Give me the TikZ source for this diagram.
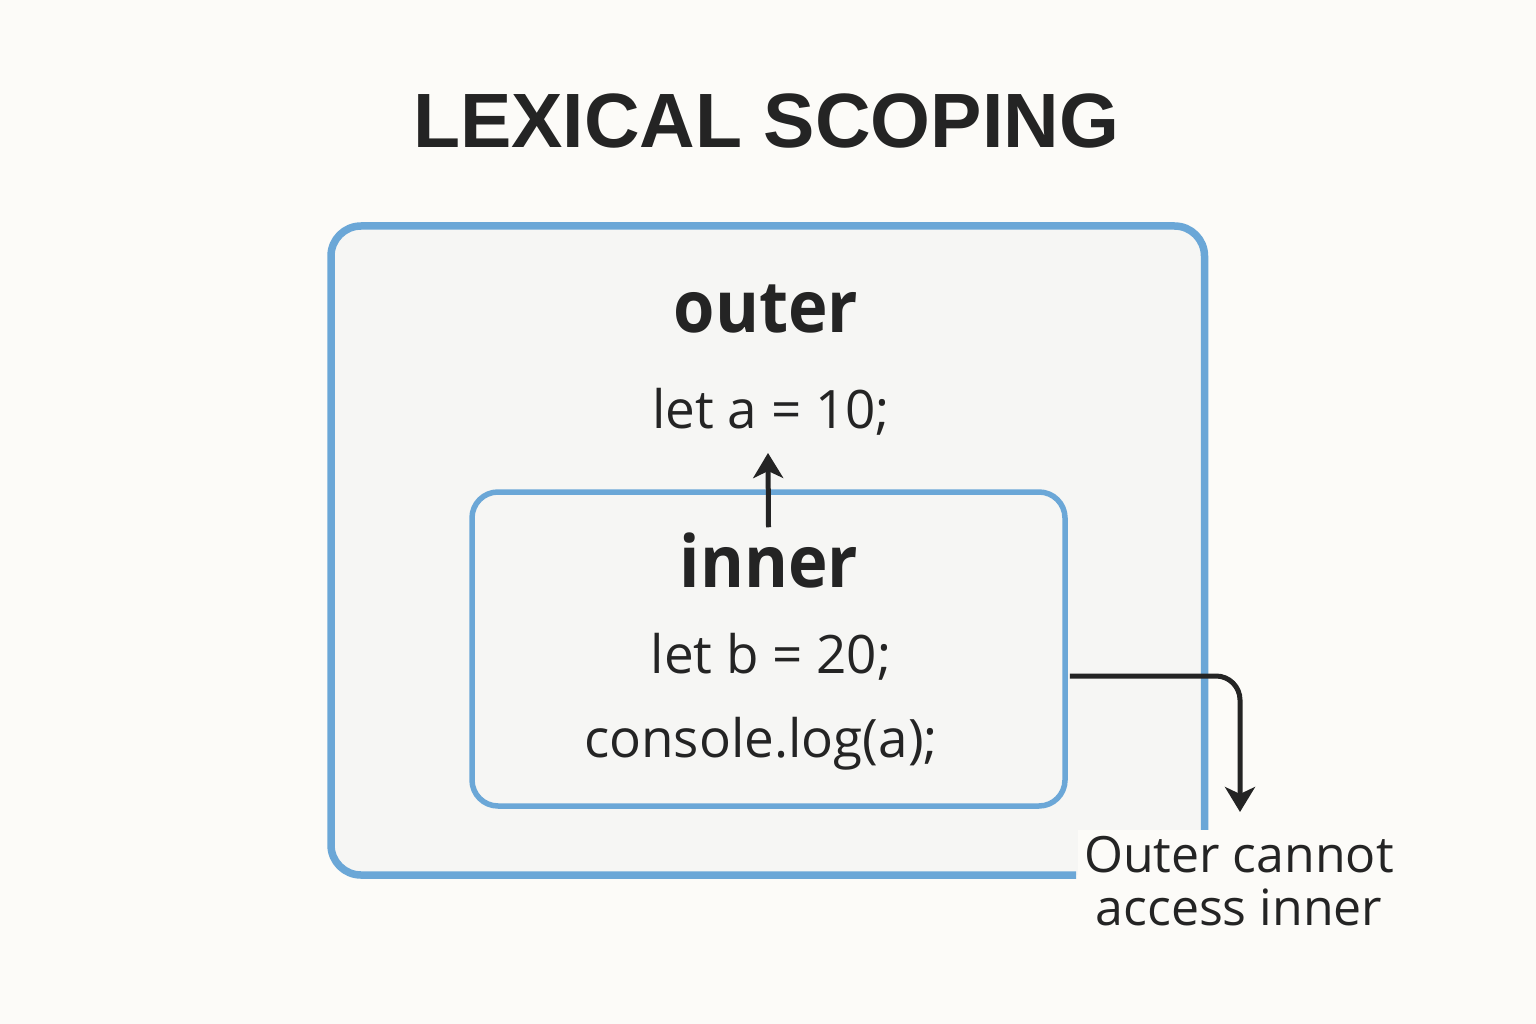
\documentclass[tikz,border=0pt]{standalone}
\usepackage{fontspec}
\setmainfont{Open Sans}
\newfontfamily\titlefont{Liberation Sans}
\newfontfamily\headfont{Open Sans}[FakeStretch=0.93]
\usetikzlibrary{arrows.meta,calc}
\definecolor{bgc}{HTML}{FCFBF8}
\definecolor{boxfill}{HTML}{F6F6F4}
\definecolor{scopeblue}{HTML}{6BA7D7}
\definecolor{ink}{HTML}{242424}
\tikzset{
  titletext/.style={font=\titlefont\bfseries\fontsize{77}{80}\selectfont, text=ink, anchor=base, inner sep=0pt},
  headtext/.style={font=\headfont\bfseries\fontsize{72}{76}\selectfont, text=ink, anchor=base, inner sep=0pt},
  codetext/.style={font=\fontsize{53}{56}\selectfont, text=ink, anchor=base, inner sep=0pt},
  notetext/.style={font=\fontsize{50}{52}\selectfont, text=ink, align=center, fill=bgc, inner sep=6pt},
  scopeline/.style={draw=scopeblue, line width=7.5pt, rounded corners=30pt},
  innerbox/.style={draw=scopeblue, line width=5.5pt, fill=boxfill, rounded corners=26pt, minimum width=593pt, minimum height=314pt, inner sep=0pt},
  conn/.style={draw=ink, line width=5pt, -{Stealth[length=25pt,width=30pt,inset=7pt]}}
}
\begin{document}
\begin{tikzpicture}[x=1pt,y=-1pt]
\fill[bgc] (0,0) rectangle (1536,1024);
\useasboundingbox (0,0) rectangle (1536,1024);
% outer scope box
\fill[boxfill, rounded corners=30pt] (331,226) rectangle (1204.5,875);
\draw[scopeline] (1204.5,833) -- (1204.5,226) -- (331,226) -- (331,875) -- (1076,875);
\node[titletext] (title) at (766,148) {LEXICAL SCOPING};
\node[headtext] (outer) at (766,332) {outer};
\node[codetext] (leta) at (771,428) {let a = 10;};
% inner scope box
\node[innerbox] (inner) at (768.5,649) {};
\node[headtext] (innerlbl) at (769,587) {inner};
\node[codetext] (letb) at (771,673) {let b = 20;};
\node[codetext] (clog) at (761,757) {console.log(a);};
% note
\node[notetext, anchor=north] (note) at (1239,830) {Outer cannot\\[1pt]access inner};
% connectors
\coordinate (upstart) at ($(inner.north)+(0,38)$);
\coordinate (upend) at ($(leta.base)+(-3,25)$);
\draw[conn] (upstart) -- (upend);
\coordinate (rstart) at ($(inner.east)+(2,27)$);
\coordinate (rend) at ($(note.north)+(1,-18)$);
\draw[conn, rounded corners=24pt] (rstart) -| (rend);
\end{tikzpicture}
\end{document}
